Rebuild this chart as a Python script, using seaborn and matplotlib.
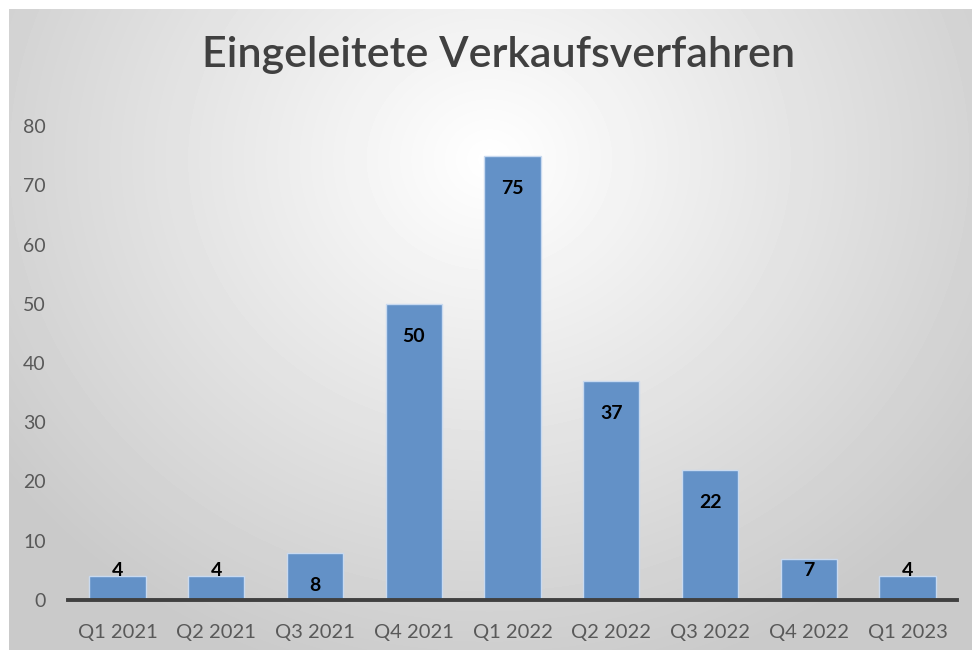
import matplotlib
matplotlib.use("Agg")
import matplotlib.pyplot as plt
import seaborn as sns
import numpy as np
import pandas as pd

# Chart data
quarters = ["Q1 2021", "Q2 2021", "Q3 2021", "Q4 2021", "Q1 2022",
            "Q2 2022", "Q3 2022", "Q4 2022", "Q1 2023"]
verfahren = [4, 4, 8, 50, 75, 37, 22, 7, 4]

df = pd.DataFrame({"Quartal": quarters, "Anzahl": verfahren})

sns.set_style("white")
plt.rcParams["font.family"] = ["Lato", "DejaVu Sans"]

fig = plt.figure(figsize=(9.72, 6.5), dpi=100)

# Radial grey gradient background (Excel chart area style)
bg = fig.add_axes([9 / 972, 0, 1 - 9 / 972, 1 - 9 / 650])
h, w = 641, 963
yy, xx = np.mgrid[0:h, 0:w]
t = np.sqrt(((xx - 480) / 600) ** 2 + ((yy - 150) / 540) ** 2)
shade = 1.0 - 0.21 * np.clip(t, 0, 1)
bg.imshow(shade, cmap="gray", vmin=0, vmax=1, aspect="auto", interpolation="bilinear")
bg.set_axis_off()

ax = fig.add_axes([68 / 972, 1 - 600 / 650, (957 - 68) / 972, (600 - 126) / 650])
ax.patch.set_alpha(0)

sns.barplot(data=df, x="Quartal", y="Anzahl", color="#6391c7", saturation=1,
            width=0.57, edgecolor="#c9daf0", linewidth=1.0, ax=ax)

ax.set_xlim(-0.5, len(quarters) - 0.5)
ax.set_ylim(0, 80)
ax.set_yticks(range(0, 81, 10))
ax.set_xlabel("")
ax.set_ylabel("")

# Data labels
for i, v in enumerate(verfahren):
    ly = v - 5.5 if v >= 8 else min(v + 1, 5)
    ax.text(i, ly, str(v), ha="center", va="center", fontsize=14,
            fontweight="bold", color="black")

# Axis styling
for s in ["top", "right", "left"]:
    ax.spines[s].set_visible(False)
ax.spines["bottom"].set_color("#404040")
ax.spines["bottom"].set_linewidth(2.8)
ax.set_xticks(np.arange(-0.5, len(quarters), 1.0), minor=True)
ax.tick_params(axis="x", which="minor", length=6, width=2.5, color="#404040", direction="out")
ax.tick_params(axis="x", which="major", length=0, pad=17, labelsize=14.5, labelcolor="#595959")
ax.tick_params(axis="y", length=0, pad=16, labelsize=14, labelcolor="#595959")

fig.text(0.513, 1 - 55 / 650, "Eingeleitete Verkaufsverfahren", ha="center", va="center",
         fontsize=31, fontweight="semibold", color="#404040")

fig.savefig("out.png", dpi=100, facecolor="white")
